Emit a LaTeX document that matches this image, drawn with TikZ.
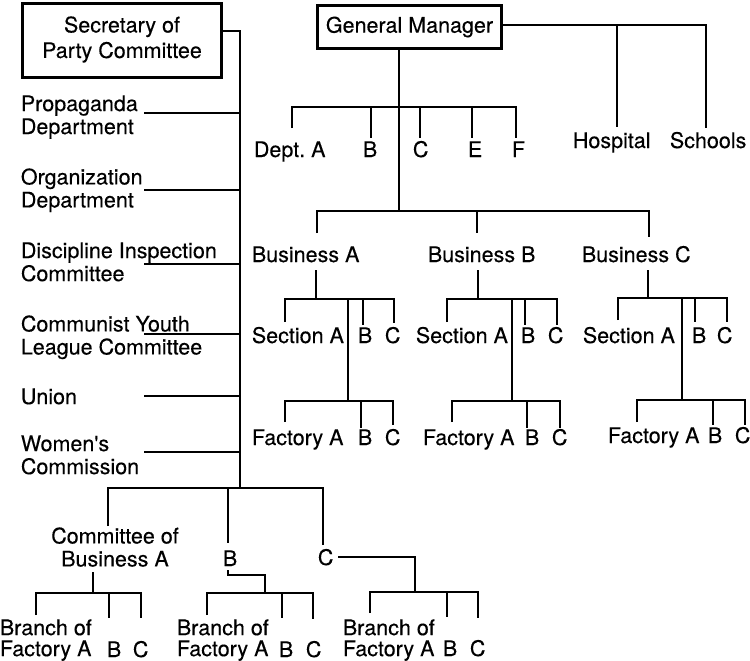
\documentclass[tikz,border=0pt]{standalone}
\usepackage{fontspec}
\setmainfont{TeX Gyre Heros}[Ligatures=TeXOff,FakeBold=0.3]
\begin{document}
\begin{tikzpicture}[x=1pt,y=-1pt,line width=2.8pt,
  lbl/.style={inner sep=0pt,anchor=base west,font=\fontsize{21.5}{23}\selectfont},
  mlbl/.style={inner sep=0pt,anchor=north west,align=left,font=\fontsize{21.5}{23}\selectfont},
  blbl/.style={inner sep=0pt,anchor=north west,align=left,font=\fontsize{21.5}{21}\selectfont},
  clbl/.style={inner sep=0pt,anchor=north,align=center,font=\fontsize{21.5}{23}\selectfont},
  boxn/.style={draw,line width=2.8pt,inner sep=0pt}]
\useasboundingbox (0,0) rectangle (750,661);

% ---- boxes ----
\node[boxn,minimum width=199.2,minimum height=74.2] (sec) at (122,40.5) {};
\node[clbl,font=\fontsize{21.5}{25.5}\selectfont] (sectxt) at (122,15) {Secretary of\\Party Committee};
\node[boxn,minimum width=184.2,minimum height=43.2,font=\fontsize{21.5}{23}\selectfont] (gm) at (409.5,27) {General Manager};

% ---- party side labels ----
\node[mlbl] (pro) at (19.5,94) {Propaganda\\Department};
\node[mlbl] (org) at (19.5,167) {Organization\\Department};
\node[mlbl] (dis) at (19.5,241) {Discipline Inspection\\Committee};
\node[mlbl] (cyl) at (19.5,314) {Communist Youth\\League Committee};
\node[mlbl] (uni) at (19.5,387) {Union};
\node[mlbl] (wom) at (19.5,434) {Women's\\Commission};

\node[clbl] (cba) at (115,526) {Committee of\\Business A};
\node[lbl] (pb) at (221.5,566) {B};
\node[lbl] (pc) at (316.5,565) {C};

\node[blbl] (br1) at (-1.5,618) {Branch of\\Factory A};
\node[lbl] (br1b) at (105.5,657) {B};
\node[lbl] (br1c) at (131.5,657) {C};
\node[blbl] (br2) at (175.5,618) {Branch of\\Factory A};
\node[lbl] (br2b) at (277.5,657) {B};
\node[lbl] (br2c) at (304.5,657) {C};
\node[blbl] (br3) at (341.5,618) {Branch of\\Factory A};
\node[lbl] (br3b) at (441.5,656) {B};
\node[lbl] (br3c) at (468.5,656) {C};

% ---- management side labels ----
\node[lbl] (dA) at (252.5,157) {Dept.\ A};
\node[lbl] (dB) at (361.5,157) {B};
\node[lbl] (dC) at (411.5,157) {C};
\node[lbl] (dE) at (466.5,157) {E};
\node[lbl] (dF) at (510.5,157) {F};
\node[lbl] (hosp) at (571.5,148) {Hospital};
\node[lbl] (sch) at (668.5,148) {Schools};

\node[lbl] (busA) at (250.5,262) {Business A};
\node[lbl] (busB) at (426.5,262) {Business B};
\node[lbl] (busC) at (580.5,262) {Business C};

\node[lbl] (sA1) at (250.5,343) {Section A};
\node[lbl] (sB1) at (356.5,343) {B};
\node[lbl] (sC1) at (383.5,343) {C};
\node[lbl] (sA2) at (414.5,343) {Section A};
\node[lbl] (sB2) at (519.5,343) {B};
\node[lbl] (sC2) at (546.5,343) {C};
\node[lbl] (sA3) at (581.5,343) {Section A};
\node[lbl] (sB3) at (690.5,343) {B};
\node[lbl] (sC3) at (715.5,343) {C};

\node[lbl] (fA1) at (250.5,445) {Factory A};
\node[lbl] (fB1) at (356.5,445) {B};
\node[lbl] (fC1) at (383.5,445) {C};
\node[lbl] (fA2) at (421.5,445) {Factory A};
\node[lbl] (fB2) at (523.5,445) {B};
\node[lbl] (fC2) at (550.5,445) {C};
\node[lbl] (fA3) at (606.5,443) {Factory A};
\node[lbl] (fB3) at (706.5,443) {B};
\node[lbl] (fC3) at (733.5,443) {C};

% ---- party tree lines ----
\draw (223,31) -| (240,488);
\foreach \yy in {113,190,264,334,396,452} \draw (144,\yy) -- (240,\yy);
\draw (108,526) |- (323,488) -- (323,545);
\draw (228,488) -- (228,543);
\draw (93,572) -- (93,593);
\draw (36,615) |- (141,593) -- (141,618);
\draw (109,593) -- (109,618);
\draw (228,570) |- (265,575) -- (265,593);
\draw (207,615) |- (313,593) -- (313,619);
\draw (282,593) -- (282,618);
\draw (338,557) -| (415,592);
\draw (370,613) |- (478,592) -- (478,618);
\draw (447,592) -- (447,617);

% ---- management tree lines ----
\draw (503,25) -| (706,128);
\draw (617,25) -- (617,127);
\draw (399,50) -- (399,211);
\draw (292,128) |- (516,107) -- (516,138);
\foreach \xx in {371,420,472} \draw (\xx,107) -- (\xx,138);
\draw (317,233) |- (649,211) -- (649,237);
\draw (477,211) -- (477,233);

\draw (316,270) -- (316,299);
\draw (285,322) |- (394,299) -- (394,323);
\draw (363,299) -- (363,325);
\draw (348,299) -- (348,401);
\draw (285,422) |- (393,401) -- (393,425);
\draw (361,401) -- (361,428);

\draw (478,270) -- (478,299);
\draw (447,322) |- (557,299) -- (557,325);
\draw (525,299) -- (525,325);
\draw (512,299) -- (512,401);
\draw (452,422) |- (560,401) -- (560,428);
\draw (527,401) -- (527,428);

\draw (648,270) -- (648,298);
\draw (618,320) |- (727,298) -- (727,322);
\draw (695,298) -- (695,322);
\draw (682,298) -- (682,400);
\draw (637,422) |- (745,400) -- (745,425);
\draw (713,400) -- (713,425);
\end{tikzpicture}
\end{document}
